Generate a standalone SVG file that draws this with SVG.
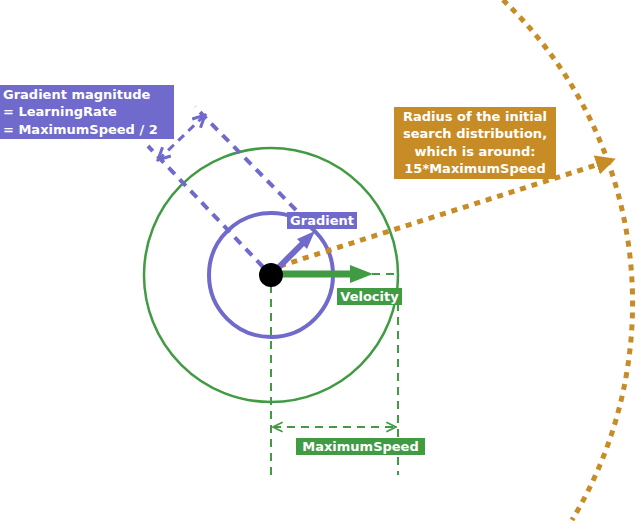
<svg xmlns="http://www.w3.org/2000/svg" width="640" height="523" viewBox="0 0 640 523">
<style>
.t{font-family:"DejaVu Sans",sans-serif;font-weight:bold;font-size:13px;fill:#fff}
.b{stroke:#6f6acb;fill:none}
.g{stroke:#409b43;fill:none}
.o{stroke:#c88c26;fill:none}
</style>
<defs>
<marker id="vb" viewBox="0 0 10 10" refX="9" refY="5" markerWidth="5" markerHeight="5" orient="auto-start-reverse"><path d="M1,1L9,5L1,9" fill="none" stroke="#6f6acb" stroke-width="2"/></marker>
<marker id="vg" viewBox="0 0 10 10" refX="9" refY="5" markerWidth="6" markerHeight="6" orient="auto-start-reverse"><path d="M1,1L9,5L1,9" fill="none" stroke="#409b43" stroke-width="1.5"/></marker>
<marker id="ao" viewBox="0 0 10 10" refX="8" refY="5" markerWidth="4" markerHeight="4" orient="auto"><path d="M0,0L10,5L0,10z" fill="#c88c26"/></marker>
</defs>
<g id="circles">
<circle cx="271" cy="275" r="127" class="g" stroke-width="2.5"/>
<circle cx="271" cy="275" r="62" class="b" stroke-width="4"/>
<path d="M503,0 A419,419 0 0 1 572,520" class="o" stroke-width="5" stroke-dasharray="6,6"/>
</g>
<g id="connectors">
<path d="M263,267L148,146M296,210L195,107" class="b" stroke-width="4" stroke-dasharray="9,7"/>
<path d="M158,160L205,115" class="b" stroke-width="3" stroke-dasharray="8,6" marker-start="url(#vb)" marker-end="url(#vb)"/>
<path d="M271,285V475M398,275V475M372,274H398" class="g" stroke-width="2" stroke-dasharray="8,6"/>
<path d="M273,427H396" class="g" stroke-width="2" stroke-dasharray="8,6" marker-start="url(#vg)" marker-end="url(#vg)"/>
<path d="M280,266L612,160" class="o" stroke-width="5" stroke-dasharray="6,6" marker-end="url(#ao)"/>
<path d="M276,270L303,243" stroke="#6f6acb" stroke-width="6"/>
<path d="M315,231L297,239L307,249z" fill="#6f6acb"/>
<path d="M280,274H352" stroke="#409b43" stroke-width="7"/>
<path d="M373,274L350,265V283z" fill="#409b43"/>
<circle cx="271" cy="275" r="12" fill="#000"/>
</g>
<g id="labels">
<rect x="0" y="85" width="174" height="54" fill="#6f6acb"/>
<text class="t" x="3" y="99">Gradient magnitude</text>
<text class="t" x="3" y="116"> = LearningRate</text>
<text class="t" x="3" y="134"> = MaximumSpeed / 2</text>
<rect x="394" y="107" width="162" height="72" fill="#c88c26"/>
<text class="t" x="475" y="121" text-anchor="middle">Radius of the initial</text>
<text class="t" x="475" y="138" text-anchor="middle">search distribution,</text>
<text class="t" x="475" y="156" text-anchor="middle">which is around:</text>
<text class="t" x="475" y="173" text-anchor="middle">15*MaximumSpeed</text>
<rect x="287" y="212" width="70" height="17" fill="#6f6acb"/>
<text class="t" x="322" y="225" text-anchor="middle">Gradient</text>
<rect x="337" y="288" width="65" height="17" fill="#409b43"/>
<text class="t" x="369.5" y="301" text-anchor="middle">Velocity</text>
<rect x="296" y="438" width="129" height="17" fill="#409b43"/>
<text class="t" x="360.5" y="451" text-anchor="middle">MaximumSpeed</text>
</g>
</svg>
